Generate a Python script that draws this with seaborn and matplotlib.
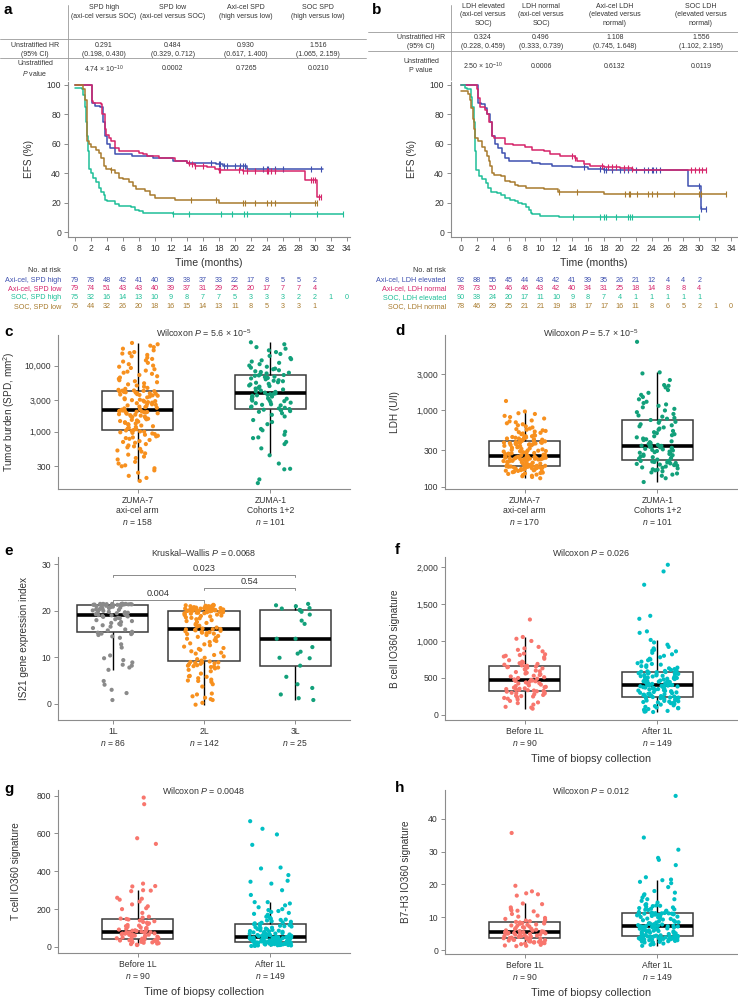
import numpy as np
import pandas as pd
import seaborn as sns
import matplotlib.pyplot as plt
import matplotlib.transforms as mtrans
from matplotlib.lines import Line2D
from matplotlib.ticker import NullLocator

W, H = 738, 999

# ---------------- panel a / b tables ----------------
a_heads = ["SPD high\n(axi-cel versus SOC)", "SPD low\n(axi-cel versus SOC)",
           "Axi-cel SPD\n(high versus low)", "SOC SPD\n(high versus low)"]
a_hr = ["0.291\n(0.198, 0.430)", "0.484\n(0.329, 0.712)", "0.930\n(0.617, 1.400)", "1.516\n(1.065, 2.159)"]
a_p = [r"4.74 × 10$^{-10}$", "0.0002", "0.7265", "0.0210"]
b_heads = ["LDH elevated\n(axi-cel versus\nSOC)", "LDH normal\n(axi-cel versus\nSOC)",
           "Axi-cel LDH\n(elevated versus\nnormal)", "SOC LDH\n(elevated versus\nnormal)"]
b_hr = ["0.324\n(0.228, 0.459)", "0.496\n(0.333, 0.739)", "1.108\n(0.745, 1.648)", "1.556\n(1.102, 2.195)"]
b_p = [r"2.50 × 10$^{-10}$", "0.0006", "0.6132", "0.0119"]

# ---------------- KM curves (time in months, EFS %) ----------------
a_hi_ax_t = [0, 2.1, 2.5, 3.1, 3.5, 3.8, 4.0, 4.4, 5.0, 7.1, 8.0, 9.8, 12.3, 14.0, 17.7, 18.5, 21.5, 31.0]
a_hi_ax_s = [100, 88, 86, 85, 75, 65, 60, 57, 53, 52, 51.5, 50, 48, 47, 46, 45, 43, 43]
a_hi_ax_c = [17.0, 18.0, 18.2, 18.6, 19.0, 20.0, 20.6, 21.0, 21.3, 23.5, 24.0, 24.2, 25.0, 26.0, 29.5, 30.8]
a_lo_ax_t = [0, 2.1, 2.2, 3.2, 3.4, 3.7, 3.9, 4.2, 4.5, 5.0, 5.5, 8.0, 8.5, 9.0, 10.5, 12.5, 14.0, 14.3,
             15.0, 16.5, 17.5, 18.0, 21.0, 28.8, 30.3, 30.8]
a_lo_ax_s = [100, 89, 88, 87, 80, 70, 66, 64, 62, 57, 55, 54, 53, 52, 50, 48, 47, 46,
             45, 44, 43, 42, 41.5, 35.5, 24, 24]
a_lo_ax_c = [14.2, 14.6, 15.0, 16.0, 18.0, 18.2, 20.5, 21.0, 21.5, 22.5, 24.0, 24.2, 24.5, 25.0,
             29.5, 29.8, 30.0, 30.5, 30.8]
a_hi_soc_t = [0, 0.9, 1.0, 1.2, 1.3, 1.4, 1.5, 1.6, 1.7, 1.8, 2.0, 2.3, 2.6, 3.0, 3.3, 3.6, 3.8, 4.0,
              5.0, 5.5, 7.0, 7.5, 8.0, 8.5, 12.2, 33.5]
a_hi_soc_s = [98, 97, 93, 90, 85, 75, 65, 55, 48, 43, 40, 37, 34, 30, 27, 25, 22, 21,
              19, 18, 17, 15, 14, 13, 12, 12]
a_hi_soc_c = [12.3, 14.3, 18.3, 19.6, 21.2, 21.5, 26.9, 30.3, 33.5]
a_lo_soc_t = [0, 1.0, 1.3, 1.5, 1.7, 2.0, 2.6, 3.0, 3.3, 3.6, 3.9, 4.5, 5.0, 5.5, 6.0, 6.7, 7.2, 7.6,
              8.8, 9.4, 10.0, 12.5, 14.0, 18.0, 30.3]
a_lo_soc_s = [100, 97, 90, 62, 60, 58, 56, 54, 50, 45, 43, 42, 40, 37, 36, 34, 31, 29,
              28, 25, 23, 22, 21.5, 20, 20]
a_lo_soc_c = [4.5, 14.5, 17.6, 21.0, 21.3, 22.5, 24.0, 24.5, 25.0, 30.0, 30.3]

b_el_ax_t = [0, 2.1, 2.2, 2.5, 3.0, 3.3, 3.6, 3.9, 4.3, 4.7, 5.1, 5.5, 6.0, 7.5, 9.0, 10.0, 11.5,
             14.0, 16.0, 18.0, 28.6, 30.2, 30.8]
b_el_ax_s = [100, 92, 88, 87, 84, 80, 75, 65, 60, 57, 54, 50, 48.5, 48, 47, 46, 45,
             44, 43, 42, 31, 15.5, 15.5]
b_el_ax_c = [15.5, 17.5, 18.0, 18.3, 19.0, 20.0, 20.5, 21.0, 22.0, 23.0, 23.5, 24.0, 24.2, 24.5,
             25.0, 30.0, 30.2, 30.8]
b_no_ax_t = [0, 2.0, 2.1, 2.4, 3.0, 3.3, 3.5, 3.9, 4.2, 5.5, 6.5, 8.0, 9.0, 10.5, 11.2, 12.5, 14.3,
             14.6, 15.5, 16.2, 18.0, 20.0, 21.5, 21.6, 30.8]
b_no_ax_s = [100, 97, 91, 85, 83, 80, 75, 65, 64, 60, 59, 58, 56, 55, 53, 52, 50,
             48, 46, 45, 44, 43.5, 43, 42, 42]
b_no_ax_c = [14.0, 14.3, 17.8, 18.5, 19.0, 19.5, 20.5, 21.0, 21.5, 29.0, 29.5, 30.0, 30.3, 30.8]
b_el_soc_t = [0, 0.5, 0.8, 1.2, 1.4, 1.6, 1.75, 1.9, 2.3, 2.7, 3.1, 3.4, 3.8, 4.5, 5.0, 5.6, 6.2,
              6.8, 7.2, 7.7, 8.2, 8.5, 8.8, 9.0, 10.0, 12.3, 30.0]
b_el_soc_s = [100, 98, 97, 92, 85, 75, 55, 42, 38, 36, 33, 30, 27, 26.5, 25, 23, 22,
              21, 20, 19, 17, 15, 13, 12, 11, 10, 10]
b_el_soc_c = [14.1, 17.5, 18.0, 18.3, 19.5, 21.0, 21.3, 21.5, 30.0]
b_no_soc_t = [0, 0.9, 1.1, 1.3, 1.5, 1.6, 1.8, 2.2, 2.7, 3.0, 3.3, 3.5, 3.7, 3.9, 4.2, 5.0, 5.5,
              6.2, 6.8, 7.2, 8.2, 10.5, 12.2, 18.0, 33.4]
b_no_soc_s = [96, 94, 90, 84, 77, 70, 64, 62, 58, 55, 52, 48, 45, 40, 38.5, 38, 35,
              34, 32, 31, 30, 29, 27, 26, 26]
b_no_soc_c = [12.3, 14.6, 20.6, 21.2, 21.3, 22.2, 23.6, 24.0, 24.7, 26.8, 30.0, 30.2, 33.4]

risk_times = [0, 2, 4, 6, 8, 10, 12, 14, 16, 18, 20, 22, 24, 26, 28, 30, 32, 34]
a_risk_labels = ["Axi-cel, SPD high", "Axi-cel, SPD low", "SOC, SPD high", "SOC, SPD low"]
a_risk = [[79, 78, 48, 42, 41, 40, 39, 38, 37, 33, 22, 17, 8, 5, 5, 2],
          [79, 74, 51, 43, 43, 40, 39, 37, 31, 29, 25, 20, 17, 7, 7, 4],
          [75, 32, 16, 14, 13, 10, 9, 8, 7, 7, 5, 3, 3, 3, 2, 2, 1, 0],
          [75, 44, 32, 26, 20, 18, 16, 15, 14, 13, 11, 8, 5, 3, 3, 1]]
b_risk_labels = ["Axi-cel, LDH elevated", "Axi-cel, LDH normal", "SOC, LDH elevated", "SOC, LDH normal"]
b_risk = [[92, 88, 55, 45, 44, 43, 42, 41, 39, 35, 26, 21, 12, 4, 4, 2],
          [78, 73, 50, 46, 46, 43, 42, 40, 34, 31, 25, 18, 14, 8, 8, 4],
          [90, 38, 24, 20, 17, 11, 10, 9, 8, 7, 4, 1, 1, 1, 1, 1],
          [78, 46, 29, 25, 21, 21, 19, 18, 17, 17, 16, 11, 8, 6, 5, 2, 1, 0]]
km_colors = ["#3F51B0", "#D6246A", "#1FBF98", "#A87B2E"]

# ---------------- panel c: tumor burden (SPD, mm2) ----------------
c_groups = ["ZUMA-7\naxi-cel arm\n$n$ = 158", "ZUMA-1\nCohorts 1+2\n$n$ = 101"]
c_zuma7 = [180, 200, 215, 240, 260, 280, 300, 310, 330, 350, 380, 400, 420, 450, 470, 500, 520, 550,
           580, 600, 620, 650, 680, 700, 720, 750, 780, 800, 820, 850, 870, 900, 920, 940, 960, 980,
           1000, 1010, 1030, 1045,
           1060, 1090, 1120, 1150, 1180, 1210, 1240, 1270, 1300, 1330, 1360, 1390, 1420, 1450, 1480,
           1510, 1540, 1570, 1600, 1630, 1660, 1690, 1720, 1750, 1780, 1810, 1840, 1870, 1900, 1930,
           1950, 1970, 1990, 2010, 2030, 2050, 2060, 2080, 2090, 2100,
           2150, 2200, 2250, 2300, 2350, 2400, 2450, 2500, 2550, 2600, 2650, 2700, 2750, 2800, 2850,
           2900, 2950, 3000, 3050, 3100, 3200, 3300, 3400, 3500, 3550, 3600, 3650, 3700, 3750, 3800,
           3850, 3900, 3950, 4000, 4050, 4100, 4150, 4180, 4200,
           4300, 4450, 4600, 4800, 5000, 5200, 5400, 5600, 5800, 6000, 6300, 6600, 6900, 7200, 7500,
           7800, 8100, 8400, 8800, 9200, 9600, 10000, 10500, 11000, 11500, 12000, 12600, 13200, 13800,
           14500, 15200, 15500, 16000, 17000, 18000, 19000, 20000, 21000, 22000]
c_zuma1 = [167, 190, 270, 275, 330, 440, 560, 650, 700, 800, 820, 900, 1000, 1050, 1100, 1300, 1400,
           1500, 1700, 1800, 1900, 2000, 2050, 2100, 2150,
           2200, 2250, 2300, 2350, 2400, 2500, 2550, 2600, 2700, 2750, 2800, 2900, 2950, 3000, 3100,
           3150, 3200, 3300, 3350, 3400, 3500, 3550, 3600, 3700, 3750, 3800,
           3900, 4000, 4100, 4200, 4350, 4500, 4600, 4800, 4900, 5000, 5200, 5300, 5500, 5600, 5800,
           5900, 6000, 6200, 6400, 6500, 6700, 6800, 7000, 7100, 7200,
           7400, 7600, 7800, 8000, 8200, 8500, 8800, 9000, 9300, 9600, 10000, 10500, 11000, 11500,
           12000, 12500, 13000, 14000, 15000, 16000, 17000, 18000, 19000, 21000, 22500]

# ---------------- panel d: LDH (U/l) ----------------
d_groups = ["ZUMA-7\naxi-cel arm\n$n$ = 170", "ZUMA-1\nCohorts 1+2\n$n$ = 101"]
d_zuma7 = [130, 135, 138, 140, 143, 145, 148, 150, 152, 154, 156, 158, 160, 162, 163, 165, 166, 168,
           170, 171, 172, 173, 175, 176, 177, 178, 179, 180, 181, 182, 183, 184, 185, 185, 186, 186,
           187, 187, 188, 188, 189, 189,
           190, 192, 194, 196, 198, 200, 202, 204, 206, 208, 210, 212, 214, 216, 218, 220, 222, 224,
           226, 228, 230, 231, 232, 233, 234, 235, 236, 237, 238, 239, 240, 241, 242, 243, 244, 245,
           245, 246, 246, 247, 247, 248,
           250, 255, 258, 260, 263, 265, 268, 270, 273, 275, 278, 280, 283, 285, 290, 293, 295, 298,
           300, 305, 310, 315, 320, 325, 330, 335, 340, 345, 350, 355, 358, 360, 363, 365, 368, 370,
           373, 375, 378, 380, 383, 386, 390,
           395, 400, 405, 410, 415, 420, 425, 430, 430, 435, 440, 445, 450, 455, 460, 460, 470, 480,
           490, 500, 510, 520, 530, 540, 550, 560, 570, 580, 600, 620, 640, 660, 680, 700, 720, 740,
           785, 820, 850, 900, 920, 970, 1330]
d_zuma1 = [116, 130, 140, 145, 150, 155, 160, 165, 168, 170, 175, 178, 180, 185, 190, 193, 196, 200,
           203, 206, 209, 212, 215, 217, 219,
           222, 228, 235, 240, 245, 250, 255, 260, 265, 270, 275, 280, 285, 290, 295, 300, 305, 310,
           315, 320, 325, 330, 335, 340, 344, 346,
           355, 365, 375, 385, 395, 410, 420, 430, 445, 460, 475, 490, 505, 520, 540, 560, 580, 600,
           620, 640, 660, 690, 710, 730, 750,
           780, 800, 830, 860, 900, 950, 1000, 1050, 1100, 1150, 1200, 1250, 1300, 1400, 1500, 1600,
           1700, 1850, 2000, 2100, 2150, 2500, 3050, 3150, 7900]

# ---------------- panel e: IS21 gene expression index ----------------
e_groups = ["1L\n$n$ = 86", "2L\n$n$ = 142", "3L\n$n$ = 25"]
e_1l = [0.8, 2.3, 3.0, 4.1, 4.9, 7.3, 7.8, 8.2, 8.4, 8.9, 9.4, 9.8, 10.4, 12.1, 12.8, 14.2, 14.5, 14.8,
        15.0, 15.1, 15.2,
        15.3, 15.5, 15.8, 16.0, 16.3, 16.6, 16.9, 17.0, 17.2, 17.4, 17.6, 17.8, 18.0, 18.2, 18.4, 18.5,
        18.7, 18.8, 18.9, 19.0, 19.05,
        19.1, 19.2, 19.3, 19.4, 19.5, 19.6, 19.7, 19.8, 19.9, 20.0, 20.1, 20.2, 20.3, 20.4, 20.5, 20.6,
        20.7, 20.8, 20.9, 21.0, 21.1, 21.2,
        21.3, 21.3, 21.3, 21.3, 21.3, 21.35, 21.35, 21.35, 21.4, 21.4, 21.4, 21.4, 21.4, 21.45, 21.45,
        21.45, 21.5, 21.5, 21.5, 21.5, 21.5, 21.55]
e_2l = [-0.2, 0.2, 0.8, 1.0, 1.3, 1.6, 2.0, 2.2, 3.7, 4.2, 4.7, 4.9, 5.0, 5.2, 5.5, 5.8, 5.9, 6.0, 6.5,
        7.0, 7.3, 7.6, 7.8, 7.9, 8.0, 8.1, 8.2, 8.3, 8.5, 8.6, 8.7, 8.8, 8.9, 8.9, 9.0,
        9.1, 9.3, 9.6, 9.9, 10.2, 10.5, 10.8, 11.0, 11.3, 11.6, 11.8, 12.0, 12.3, 12.6, 12.8, 13.0, 13.3,
        13.5, 13.7, 14.0, 14.2, 14.4, 14.6, 14.8, 15.0, 15.1, 15.2, 15.3, 15.4, 15.5, 15.6, 15.7, 15.8,
        15.9, 16.0, 16.05,
        16.1, 16.2, 16.4, 16.6, 16.8, 17.0, 17.2, 17.4, 17.6, 17.8, 18.0, 18.2, 18.4, 18.5, 18.6, 18.8,
        18.9, 19.0, 19.1, 19.2, 19.3, 19.4, 19.5, 19.5, 19.6, 19.6, 19.7, 19.7, 19.8, 19.8, 19.9, 19.9,
        19.9, 20.0, 20.0, 20.0,
        20.0, 20.0, 20.1, 20.1, 20.1, 20.1, 20.2, 20.2, 20.2, 20.2, 20.3, 20.3, 20.3, 20.4, 20.4, 20.4,
        20.5, 20.5, 20.5, 20.6, 20.6, 20.6, 20.7, 20.7, 20.8, 20.8, 20.9, 20.9, 21.0, 21.0, 21.1, 21.1,
        21.2, 21.2, 21.3]
e_3l = [0.8, 1.2, 2.0, 3.4, 4.2, 5.8, 8.2, 9.8, 9.9, 10.8, 11.2, 12.2, 14.0, 14.0, 17.2, 17.9, 19.2,
        19.8, 20.1, 20.2, 20.5, 20.6, 21.0, 21.2, 21.5]

# ---------------- panels f, g, h: IO360 signatures ----------------
bio_groups = ["Before 1L\n$n$ = 90", "After 1L\n$n$ = 149"]
f_before = [85, 100, 110, 140, 160, 170, 190, 210, 220, 230, 240, 250, 255, 260, 270, 280, 290, 295, 300,
            305, 315, 320,
            325, 330, 335, 340, 345, 350, 355, 360, 370, 375, 380, 390, 400, 410, 420, 425, 430, 440,
            450, 455, 460, 465, 470,
            475, 480, 490, 500, 510, 520, 530, 540, 550, 560, 570, 580, 590, 600, 610, 620, 630, 640,
            645, 650, 655, 660,
            665, 670, 680, 690, 700, 710, 720, 740, 760, 780, 790, 800, 810, 820, 830, 860, 880, 900,
            920, 1000, 1030, 1054, 1290]
f_after = [40, 45, 50, 55, 60, 70, 80, 90, 95, 100, 110, 120, 130, 140, 150, 155, 160, 165, 170, 175,
           180, 185, 190, 195, 200, 205, 210, 215, 220, 225, 228, 231, 234, 237, 239, 241, 242,
           245, 250, 255, 260, 265, 270, 275, 280, 285, 290, 295, 300, 305, 310, 315, 320, 325, 330,
           335, 340, 345, 350, 355, 360, 365, 370, 375, 380, 385, 388, 391, 394, 397, 399, 401, 403,
           404, 405,
           410, 415, 420, 425, 430, 435, 440, 445, 450, 455, 460, 465, 470, 475, 480, 485, 490, 495,
           500, 505, 510, 515, 520, 525, 530, 535, 540, 545, 550, 555, 560, 565, 570, 573, 576, 578, 580,
           585, 590, 595, 600, 610, 620, 630, 640, 650, 660, 670, 680, 690, 700, 720, 740, 750, 760,
           780, 800, 820, 840, 860, 870, 880, 900, 920, 950, 980, 1014, 1110, 1130, 1300, 1340, 1760,
           1940, 2030]
g_before = [10, 12, 15, 18, 20, 22, 24, 25, 27, 28, 30, 31, 32, 33, 34, 35, 36, 37, 38, 39, 40, 41,
            42, 44, 46, 48, 50, 52, 54, 56, 58, 60, 62, 64, 65, 66, 68, 70, 71, 72, 74, 75, 76, 77, 78,
            80, 82, 84, 86, 88, 90, 92, 95, 98, 100, 103, 106, 110, 113, 116, 120, 125, 128, 132, 136,
            140, 145,
            148, 150, 155, 160, 180, 200, 205, 215, 225, 240, 250, 255, 260, 295, 298, 300, 320, 322,
            335, 545, 575, 755, 790]
g_after = [5, 6, 7, 8, 8, 9, 10, 10, 11, 12, 12, 13, 14, 14, 15, 16, 16, 17, 18, 18, 19, 20, 20, 21,
           21, 22, 22, 23, 23, 24, 24, 24, 25, 25, 25, 26, 26,
           27, 28, 29, 30, 30, 31, 32, 33, 34, 35, 35, 36, 37, 38, 39, 40, 40, 41, 42, 43, 44, 45, 45,
           46, 47, 48, 48, 49, 49, 50, 50, 51, 51, 52, 52, 52, 53, 53,
           54, 55, 56, 57, 58, 59, 60, 62, 63, 65, 66, 68, 70, 71, 73, 75, 77, 79, 80, 82, 84, 86, 88,
           90, 92, 95, 97, 100, 102, 105, 108, 110, 112, 114, 116, 118, 120,
           122, 125, 128, 130, 133, 136, 140, 143, 145, 150, 155, 160, 165, 170, 175, 180, 185, 190,
           195, 200, 210, 220, 230, 237, 237, 275, 300, 335, 345, 350, 380, 415, 420, 540, 595, 625, 665]
h_before = [1.2, 1.3, 1.4, 1.6, 1.8, 2.0, 2.1, 2.2, 2.3, 2.4, 2.5, 2.6, 2.7, 2.8, 2.9, 3.0, 3.1, 3.2,
            3.3, 3.4, 3.5, 3.55,
            3.6, 3.7, 3.8, 3.9, 4.0, 4.1, 4.2, 4.3, 4.4, 4.5, 4.6, 4.7, 4.8, 4.9, 5.0, 5.0, 5.1, 5.2,
            5.2, 5.3, 5.3, 5.4, 5.45,
            5.5, 5.6, 5.7, 5.8, 5.9, 6.0, 6.2, 6.4, 6.5, 6.7, 6.8, 7.0, 7.2, 7.4, 7.5, 7.7, 7.8, 8.0,
            8.1, 8.2, 8.3, 8.4,
            8.5, 8.6, 8.8, 9.0, 9.2, 9.5, 9.8, 10.2, 10.5, 11.0, 11.8, 12.0, 12.1, 12.5, 13.0, 14.0,
            14.2, 16.6, 17.0, 17.3, 17.9, 19.6, 35.7]
h_after = [1.3, 1.6, 1.8, 2.0, 2.1, 2.2, 2.3, 2.4, 2.5, 2.6, 2.7, 2.8, 2.9, 3.0, 3.0, 3.1, 3.2, 3.2,
           3.3, 3.3, 3.4, 3.4, 3.5, 3.5, 3.6, 3.6, 3.7, 3.7, 3.8, 3.8, 3.9, 3.9, 4.0, 4.0, 4.1, 4.1, 4.15,
           4.2, 4.3, 4.4, 4.5, 4.6, 4.7, 4.8, 4.9, 5.0, 5.1, 5.2, 5.3, 5.4, 5.5, 5.6, 5.7, 5.8, 5.9,
           6.0, 6.1, 6.2, 6.3, 6.4, 6.5, 6.6, 6.7, 6.8, 6.9, 7.0, 7.0, 7.1, 7.1, 7.2, 7.2, 7.25, 7.25,
           7.3, 7.3,
           7.4, 7.5, 7.6, 7.7, 7.8, 7.9, 8.0, 8.1, 8.2, 8.4, 8.5, 8.6, 8.8, 9.0, 9.1, 9.3, 9.5, 9.6,
           9.8, 10.0, 10.1, 10.2, 10.4, 10.5, 10.6, 10.7, 10.8, 10.9, 11.0, 11.0, 11.1, 11.1, 11.2,
           11.2, 11.25, 11.25, 11.3,
           11.4, 11.6, 11.8, 12.0, 12.2, 12.3, 12.4, 12.6, 12.8, 13.0, 13.2, 13.4, 13.5, 13.6, 13.8,
           14.0, 14.5, 15.0, 15.5, 15.5, 16.0, 16.7, 17.0, 17.5, 18.0, 19.2, 20.4, 20.8, 21.3, 21.5,
           22.2, 25.9, 27.5, 28.1, 30.6, 34.3, 47.0]

GREY = "#8c8c8c"
TXT = "#333333"


def fx(x):
    return x / W


def fy(y):
    return 1 - y / H


def px_axes(fig, l, t, r, b):
    return fig.add_axes([l / W, 1 - b / H, (r - l) / W, (b - t) / H])


def style_axes(ax, fs=6.2):
    sns.despine(ax=ax)
    for s in ["left", "bottom"]:
        ax.spines[s].set_color(GREY)
        ax.spines[s].set_linewidth(0.8)
    ax.tick_params(axis="both", colors=GREY, labelcolor=TXT, labelsize=fs, length=3, width=0.7, pad=2)


def draw_table(fig, heads, hr, pv, xs, xlab, vline_x, x0, x1, head_y, line1, line2, hr_y, p_y, p_label):
    kw = dict(ha="center", va="center", fontsize=5.0, color=TXT, linespacing=1.25)
    for x, h, a, p in zip(xs, heads, hr, pv):
        fig.text(fx(x), fy(head_y), h, **kw)
        fig.text(fx(x), fy(hr_y), a, **kw)
        fig.text(fx(x), fy(p_y), p, **kw)
    fig.text(fx(xlab), fy(hr_y), "Unstratified HR\n(95% CI)", **kw)
    fig.text(fx(xlab), fy(p_y), p_label, **kw)
    for yy in [line1, line2]:
        fig.add_artist(Line2D([fx(x0), fx(x1)], [fy(yy), fy(yy)], color="#9a9a9a", lw=0.6))
    fig.add_artist(Line2D([fx(vline_x), fx(vline_x)], [fy(5), fy(80)], color="#9a9a9a", lw=0.6))


def km_panel(fig, ax, curves, xlim, risk_labels, risk, label_right):
    for (t, s, c), color in zip(curves, km_colors):
        t = np.asarray(t)
        s = np.asarray(s)
        ax.step(t, s, where="post", color=color, lw=1.1)
        idx = np.searchsorted(t, c, side="right") - 1
        ax.plot(c, s[idx], ls="none", marker="|", ms=4, mew=0.8, color=color)
    ax.set_xlim(*xlim)
    ax.set_ylim(-3.4, 102)
    ax.set_xticks(risk_times)
    ax.set_yticks([0, 20, 40, 60, 80, 100])
    style_axes(ax, fs=6.2)
    ax.set_xlabel("Time (months)", fontsize=7.6, color=TXT, labelpad=4)
    ax.set_ylabel("EFS (%)", fontsize=7.2, color=TXT)
    ax.yaxis.set_label_coords(-0.12, 0.5)
    trans = mtrans.blended_transform_factory(ax.transData, fig.transFigure)
    fig.text(fx(label_right), fy(271), "No. at risk", ha="right", va="center", fontsize=5.2, color=TXT)
    for row, (lab, counts, color) in enumerate(zip(risk_labels, risk, km_colors)):
        yy = fy(280 + row * 8.7)
        fig.text(fx(label_right), yy, lab, ha="right", va="center", fontsize=5.2, color=color)
        for tt, n in zip(risk_times, counts):
            ax.text(tt, yy, str(n), transform=trans, ha="center", va="center", fontsize=5.2,
                    color=color, clip_on=False)


def box_panel(ax, groups, values, colors, width, jitter, log=False):
    df = pd.DataFrame({"group": np.repeat(groups, [len(v) for v in values]),
                       "value": np.concatenate([np.asarray(v, float) for v in values])})
    sns.boxplot(data=df, x="group", y="value", order=groups, width=width, color="white",
                linecolor="#3a3a3a", linewidth=1.1, showfliers=False, showcaps=False,
                medianprops=dict(color="black", linewidth=2.6),
                whiskerprops=dict(color="black", linewidth=1.0),
                log_scale=log, ax=ax)
    sns.stripplot(data=df, x="group", y="value", order=groups, hue="group", hue_order=groups,
                  palette=colors, jitter=jitter, size=3.0, linewidth=0, legend=False,
                  log_scale=log, ax=ax, zorder=3)
    ax.set_xlim(-0.6, len(groups) - 0.4)
    ax.set_xlabel("")
    style_axes(ax)
    ax.tick_params(axis="x", labelsize=6.2)


def add_title(fig, x, y, txt):
    fig.text(fx(x), fy(y), txt, ha="center", va="center", fontsize=6.4, color=TXT)


def main():
    np.random.seed(3)
    sns.set_theme(style="ticks")
    plt.rcParams["font.family"] = ["Liberation Sans", "DejaVu Sans"]
    plt.rcParams["mathtext.fontset"] = "custom"
    plt.rcParams["mathtext.rm"] = "Liberation Sans"
    plt.rcParams["mathtext.it"] = "Liberation Sans:italic"

    fig = plt.figure(figsize=(W / 100, H / 100), dpi=100)

    # panel letters
    for lab, x, y in [("a", 4, 10), ("b", 372, 10), ("c", 4, 332), ("d", 395, 331),
                      ("e", 4, 551), ("f", 395, 550), ("g", 4, 789), ("h", 395, 788)]:
        fig.text(fx(x), fy(y), lab, fontsize=11, fontweight="bold", ha="left", va="center", color="black")

    # tables
    draw_table(fig, a_heads, a_hr, a_p, [104, 173, 246, 318], 35, 68, 0, 366, 12, 39, 58, 50, 69,
               "Unstratified\n$P$ value")
    draw_table(fig, b_heads, b_hr, b_p, [483, 541, 615, 701], 421, 451, 368, 738, 15, 32, 51, 42, 66,
               "Unstratified\nP value")

    # KM panels
    ax_a = px_axes(fig, 68, 82, 350, 237)
    km_panel(fig, ax_a, [(a_hi_ax_t, a_hi_ax_s, a_hi_ax_c), (a_lo_ax_t, a_lo_ax_s, a_lo_ax_c),
                         (a_hi_soc_t, a_hi_soc_s, a_hi_soc_c), (a_lo_soc_t, a_lo_soc_s, a_lo_soc_c)],
             (-0.875, 34.4), a_risk_labels, a_risk, 61)
    ax_b = px_axes(fig, 451, 82, 737, 237)
    km_panel(fig, ax_b, [(b_el_ax_t, b_el_ax_s, b_el_ax_c), (b_no_ax_t, b_no_ax_s, b_no_ax_c),
                         (b_el_soc_t, b_el_soc_s, b_el_soc_c), (b_no_soc_t, b_no_soc_s, b_no_soc_c)],
             (-1.26, 34.75), b_risk_labels, b_risk, 446)

    orange, green = "#F7901E", "#12A07A"
    salmon, cyan = "#F8766D", "#00BFC4"

    # c
    ax_c = px_axes(fig, 58, 335, 350, 489)
    box_panel(ax_c, c_groups, [c_zuma7, c_zuma1], [orange, green], 0.54, 0.16, log=True)
    ax_c.set_ylim(136, 29000)
    ax_c.set_yticks([300, 1000, 3000, 10000], ["300", "1,000", "3,000", "10,000"])
    ax_c.yaxis.set_minor_locator(NullLocator())
    ax_c.set_ylabel("Tumor burden (SPD, mm$^2$)", fontsize=7.2, color=TXT)
    ax_c.yaxis.set_label_coords(-0.14, 0.5)
    add_title(fig, 204, 333, r"Wilcoxon $P$ = 5.6 × 10$^{-5}$")

    # d
    ax_d = px_axes(fig, 445, 335, 737, 489)
    box_panel(ax_d, d_groups, [d_zuma7, d_zuma1], [orange, green], 0.54, 0.16, log=True)
    ax_d.set_ylim(94, 9700)
    ax_d.set_yticks([100, 300, 1000, 3000], ["100", "300", "1,000", "3,000"])
    ax_d.yaxis.set_minor_locator(NullLocator())
    ax_d.set_ylabel("LDH (U/l)", fontsize=7.2, color=TXT)
    ax_d.yaxis.set_label_coords(-0.155, 0.5)
    add_title(fig, 591, 333, r"Wilcoxon $P$ = 5.7 × 10$^{-5}$")

    # e
    ax_e = px_axes(fig, 58, 557, 350, 720)
    box_panel(ax_e, e_groups, [e_1l, e_2l, e_3l], ["#8a8a8a", orange, green], 0.78, 0.22)
    ax_e.set_ylim(-3.5, 31.6)
    ax_e.set_yticks([0, 10, 20, 30])
    ax_e.set_ylabel("IS21 gene expression index", fontsize=7.2, color=TXT)
    ax_e.yaxis.set_label_coords(-0.10, 0.5)
    for x0, x1, yb, txt in [(0, 1, 22.4, "0.004"), (1, 2, 25.0, "0.54"), (0, 2, 27.8, "0.023")]:
        ax_e.plot([x0, x0, x1, x1], [yb - 0.6, yb, yb, yb - 0.6], color="#8a8a8a", lw=0.7)
        ax_e.text((x0 + x1) / 2, yb + 0.4, txt, ha="center", va="bottom", fontsize=6.6, color=TXT)
    add_title(fig, 204, 552, r"Kruskal–Wallis $P$ = 0.0068")

    # f
    ax_f = px_axes(fig, 445, 557, 737, 720)
    box_panel(ax_f, bio_groups, [f_before, f_after], [salmon, cyan], 0.53, 0.16)
    ax_f.set_ylim(-68, 2135)
    ax_f.set_yticks([0, 500, 1000, 1500, 2000], ["0", "500", "1,000", "1,500", "2,000"])
    ax_f.set_ylabel("B cell IO360 signature", fontsize=7.2, color=TXT)
    ax_f.yaxis.set_label_coords(-0.155, 0.5)
    ax_f.set_xlabel("Time of biopsy collection", fontsize=7.8, color=TXT, labelpad=5)
    add_title(fig, 591, 552, r"Wilcoxon $P$ = 0.026")

    # g
    ax_g = px_axes(fig, 58, 790, 350, 953)
    box_panel(ax_g, bio_groups, [g_before, g_after], [salmon, cyan], 0.53, 0.16)
    ax_g.set_ylim(-32, 830)
    ax_g.set_yticks([0, 200, 400, 600, 800])
    ax_g.set_ylabel("T cell IO360 signature", fontsize=7.2, color=TXT)
    ax_g.yaxis.set_label_coords(-0.125, 0.5)
    ax_g.set_xlabel("Time of biopsy collection", fontsize=7.8, color=TXT, labelpad=5)
    add_title(fig, 204, 790, r"Wilcoxon $P$ = 0.0048")

    # h
    ax_h = px_axes(fig, 445, 790, 737, 954)
    box_panel(ax_h, bio_groups, [h_before, h_after], [salmon, cyan], 0.53, 0.16)
    ax_h.set_ylim(-1.2, 48.8)
    ax_h.set_yticks([0, 10, 20, 30, 40])
    ax_h.set_ylabel("B7-H3 IO360 signature", fontsize=7.2, color=TXT)
    ax_h.yaxis.set_label_coords(-0.115, 0.5)
    ax_h.set_xlabel("Time of biopsy collection", fontsize=7.8, color=TXT, labelpad=5)
    add_title(fig, 591, 790, r"Wilcoxon $P$ = 0.012")

    fig.savefig("out.png", dpi=100)


if __name__ == "__main__":
    main()
